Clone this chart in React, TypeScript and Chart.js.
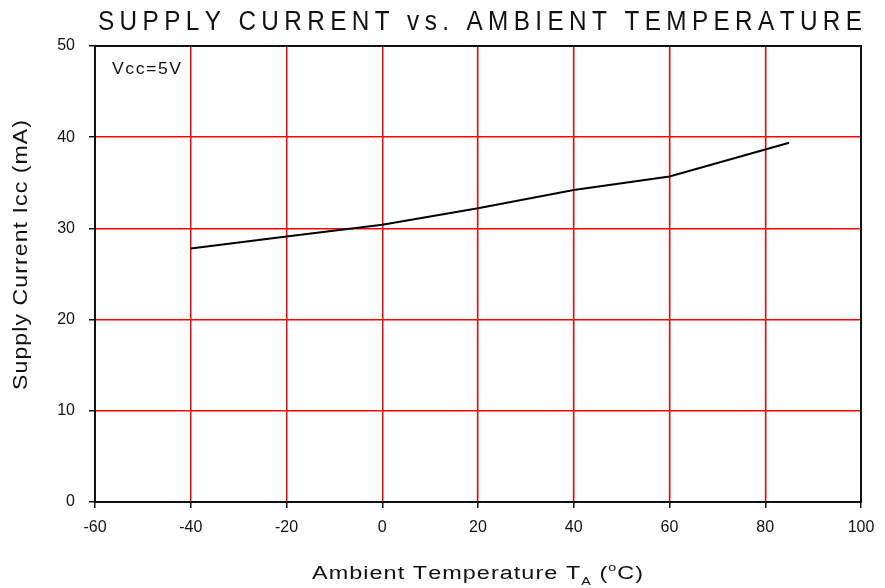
import { useEffect, useRef } from "react";
import { Chart, registerables } from "chart.js";

Chart.register(...registerables);

// Measured characteristic: supply current against ambient temperature
const temperatures = [-40, -20, 0, 20, 40, 60, 85];
const supplyCurrent = [27.8, 29.1, 30.4, 32.2, 34.2, 35.7, 39.4];

// Axis tick values
const xTicks = [-60, -40, -20, 0, 20, 40, 60, 80, 100];
const yTicks = [0, 10, 20, 30, 40, 50];

const chartTitle = "SUPPLY CURRENT vs. AMBIENT TEMPERATURE";
const yTitle = "Supply Current Icc (mA)";
const conditionNote = "Vcc=5V";

const FAMILY = "'Liberation Sans', Arial, sans-serif";
const INK = "#111";

type Seg = { text: string; size: number; dy: number };

// Draws a run of text char by char, spreading it to a given width.
function drawSpread(
  ctx: CanvasRenderingContext2D,
  segs: Seg[],
  x: number,
  y: number,
  width: number,
  scaleX: number,
  rotate = 0
) {
  const chars: { ch: string; size: number; dy: number; w: number }[] = [];
  let natural = 0;
  for (const s of segs) {
    ctx.font = `${s.size}px ${FAMILY}`;
    for (const ch of s.text) {
      const w = ctx.measureText(ch).width;
      natural += w;
      chars.push({ ch, size: s.size, dy: s.dy, w });
    }
  }
  const gap = chars.length > 1 ? (width / scaleX - natural) / (chars.length - 1) : 0;
  ctx.save();
  ctx.translate(x, y);
  if (rotate) ctx.rotate(rotate);
  ctx.scale(scaleX, 1);
  ctx.fillStyle = INK;
  ctx.textBaseline = "alphabetic";
  ctx.textAlign = "left";
  let cx = 0;
  for (const c of chars) {
    ctx.font = `${c.size}px ${FAMILY}`;
    ctx.fillText(c.ch, cx, c.dy);
    cx += c.w + gap;
  }
  ctx.restore();
}

const frameAndText = {
  id: "frameAndText",
  afterDraw(chart: Chart) {
    const { ctx, chartArea: a } = chart;
    ctx.save();
    ctx.strokeStyle = "#111";
    ctx.lineWidth = 2;
    ctx.strokeRect(a.left, a.top, a.right - a.left, a.bottom - a.top);
    ctx.restore();

    drawSpread(ctx, [{ text: chartTitle, size: 27, dy: 0 }], 98, 29.5, 764, 0.9);
    drawSpread(ctx, [{ text: conditionNote, size: 16, dy: 0 }], 112, 74, 69, 1.1);
    drawSpread(
      ctx,
      [
        { text: "Ambient Temperature T", size: 18, dy: 0 },
        { text: "A", size: 11, dy: 6 },
        { text: " (", size: 18, dy: 0 },
        { text: "o", size: 11, dy: -8 },
        { text: "C)", size: 18, dy: 0 },
      ],
      312,
      578.5,
      331,
      1.3
    );
    drawSpread(ctx, [{ text: yTitle, size: 21, dy: 0 }], 27, 390, 270, 1.1, -Math.PI / 2);
  },
};

export default function App() {
  const ref = useRef<HTMLCanvasElement>(null);

  useEffect(() => {
    document.body.style.margin = "0";
    const canvas = ref.current!;
    const chart = new Chart(canvas, {
      type: "line",
      data: {
        datasets: [
          {
            data: temperatures.map((t, i) => ({ x: t, y: supplyCurrent[i] })),
            borderColor: "#000",
            borderWidth: 2,
            pointRadius: 0,
            tension: 0,
            fill: false,
          },
        ],
      },
      plugins: [frameAndText],
      options: {
        animation: false,
        responsive: false,
        devicePixelRatio: 1,
        layout: { padding: { top: 46, right: 24, left: 0, bottom: 0 } },
        plugins: { legend: { display: false }, tooltip: { enabled: false }, title: { display: false } },
        scales: {
          x: {
            type: "linear",
            min: xTicks[0],
            max: xTicks[xTicks.length - 1],
            afterBuildTicks: (s: any) => {
              s.ticks = xTicks.map((v) => ({ value: v }));
            },
            afterFit: (s: any) => {
              s.height = 86;
            },
            grid: { color: "#ff0000", lineWidth: 1.5, tickColor: "#111", tickLength: 6 },
            border: { color: "#111", width: 2 },
            ticks: {
              color: INK,
              font: { family: FAMILY, size: 16 },
              padding: 10,
              maxRotation: 0,
              autoSkip: false,
            },
          },
          y: {
            type: "linear",
            min: yTicks[0],
            max: yTicks[yTicks.length - 1],
            afterBuildTicks: (s: any) => {
              s.ticks = yTicks.map((v) => ({ value: v }));
            },
            afterFit: (s: any) => {
              s.width = 95;
            },
            grid: { color: "#ff0000", lineWidth: 1.5, tickColor: "#111", tickLength: 6 },
            border: { color: "#111", width: 2 },
            ticks: {
              color: INK,
              font: { family: FAMILY, size: 16 },
              padding: 14,
              autoSkip: false,
            },
          },
        },
      },
    });
    return () => chart.destroy();
  }, []);

  return (
    <div style={{ width: 885, height: 588, background: "#fff" }}>
      <canvas ref={ref} width={885} height={588} style={{ display: "block" }} />
    </div>
  );
}
